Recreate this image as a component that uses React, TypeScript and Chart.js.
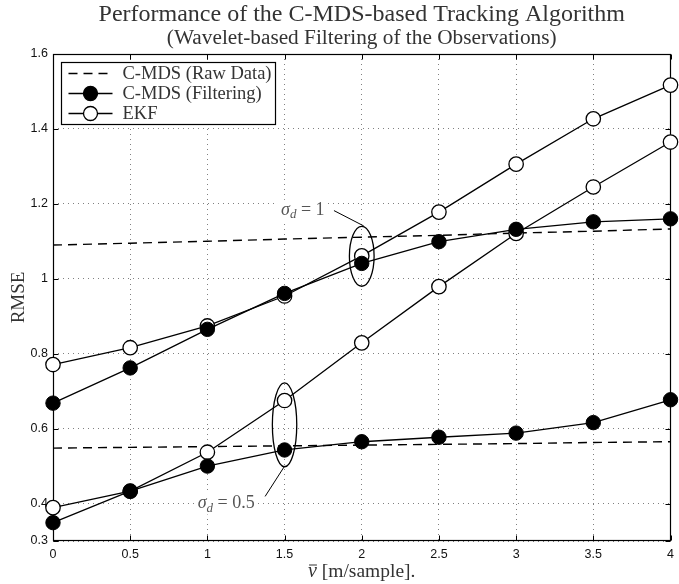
import React, { useEffect, useRef } from "react";
import { Chart, registerables } from "chart.js";

Chart.register(...registerables);

// ---- data ----
const X_VALUES = [0, 0.5, 1, 1.5, 2, 2.5, 3, 3.5, 4];
// sigma_d = 1
const CMDS_RAW_S1 = [1.09, 1.095, 1.1, 1.106, 1.111, 1.116, 1.122, 1.127, 1.133];
const CMDS_FILT_S1 = [0.668, 0.762, 0.865, 0.961, 1.041, 1.099, 1.132, 1.152, 1.16];
const EKF_S1 = [0.771, 0.816, 0.874, 0.954, 1.061, 1.178, 1.306, 1.427, 1.517];
// sigma_d = 0.5
const CMDS_RAW_S05 = [0.548, 0.55, 0.552, 0.554, 0.556, 0.558, 0.56, 0.563, 0.565];
const CMDS_FILT_S05 = [0.349, 0.433, 0.5, 0.543, 0.565, 0.577, 0.588, 0.616, 0.677];
const EKF_S05 = [0.389, 0.433, 0.537, 0.675, 0.829, 0.979, 1.121, 1.245, 1.365];

const X_TICKS = [0, 0.5, 1, 1.5, 2, 2.5, 3, 3.5, 4];
const Y_TICKS = [0.3, 0.4, 0.6, 0.8, 1, 1.2, 1.4, 1.6];

const LEGEND_LABELS = ["C-MDS (Raw Data)", "C-MDS (Filtering)", "EKF"];
const TITLE = "Performance of the C-MDS-based Tracking Algorithm";
const SUBTITLE = "(Wavelet-based Filtering of the Observations)";
const X_LABEL_SYMBOL = "\u03BD";
const X_LABEL_UNIT = " [m/sample].";
const Y_LABEL = "RMSE";

// annotation groups in data coordinates
const SIGMA_LABELS = ["1", "0.5"];
const ELLIPSE_CENTERS = [
  [2, 1.06],
  [1.5, 0.61],
];
const ELLIPSE_RADII = [
  [0.08, 0.08],
  [0.079, 0.112],
];
const LABEL_ANCHORS = [
  [1.477, 1.184],
  [0.937, 0.4],
];
const LEADERS = [
  [1.82, 1.182, 2.013, 1.141],
  [1.374, 0.419, 1.502, 0.501],
];

const SERIF = '"Liberation Serif", "DejaVu Serif", serif';
const SANS = '"Liberation Sans", Arial, sans-serif';

const W = 679;
const H = 584;

function drawSigma(ctx: CanvasRenderingContext2D, x: number, y: number, val: string) {
  ctx.save();
  ctx.textBaseline = "middle";
  ctx.textAlign = "left";
  const big = `italic 18px ${SERIF}`;
  const sub = `italic 13px ${SERIF}`;
  const up = `18px ${SERIF}`;
  ctx.font = big;
  const w1 = ctx.measureText("\u03C3").width;
  ctx.font = sub;
  const w2 = ctx.measureText("d").width;
  ctx.font = up;
  const w3 = ctx.measureText(" = " + val).width;
  const total = w1 + w2 + w3;
  ctx.fillStyle = "#fff";
  ctx.fillRect(x - 3, y - 10, total + 6, 21);
  ctx.fillStyle = "#555";
  ctx.font = big;
  ctx.fillText("\u03C3", x, y);
  ctx.font = sub;
  ctx.fillText("d", x + w1, y + 5);
  ctx.font = up;
  ctx.fillText(" = " + val, x + w1 + w2, y);
  ctx.restore();
}

const decorPlugin = {
  id: "decor",
  beforeDatasetsDraw(chart: any) {
    const { ctx, chartArea: a, scales } = chart;
    const xs = scales.x;
    const ys = scales.y;
    ctx.save();
    ctx.strokeStyle = "#000";
    ctx.lineWidth = 1;
    const L = Math.round(a.left) + 0.5;
    const R = Math.round(a.right) - 0.5;
    const T = Math.round(a.top) + 0.5;
    const B = Math.round(a.bottom) - 0.5;
    ctx.beginPath();
    for (const v of Y_TICKS) {
      const py = Math.round(ys.getPixelForValue(v)) + 0.5;
      ctx.moveTo(L, py);
      ctx.lineTo(L + 5, py);
      ctx.moveTo(R, py);
      ctx.lineTo(R - 5, py);
    }
    for (const v of X_TICKS) {
      const px = Math.round(xs.getPixelForValue(v)) + 0.5;
      ctx.moveTo(px, B);
      ctx.lineTo(px, B - 5);
      ctx.moveTo(px, T);
      ctx.lineTo(px, T + 5);
    }
    ctx.stroke();
    ctx.lineWidth = 1.2;
    ctx.strokeRect(L, T, R - L, B - T);
    ctx.restore();
  },
  afterDatasetsDraw(chart: any) {
    const { ctx, chartArea: a, scales } = chart;
    const xs = scales.x;
    const ys = scales.y;
    ctx.save();
    // ellipses and leader lines
    ctx.strokeStyle = "#000";
    for (let i = 0; i < ELLIPSE_CENTERS.length; i++) {
      const [cx, cy] = ELLIPSE_CENTERS[i];
      const [rx, ry] = ELLIPSE_RADII[i];
      const pcx = xs.getPixelForValue(cx);
      const pcy = ys.getPixelForValue(cy);
      const prx = Math.abs(xs.getPixelForValue(cx + rx) - pcx);
      const pry = Math.abs(ys.getPixelForValue(cy + ry) - pcy);
      ctx.lineWidth = 1.3;
      ctx.beginPath();
      ctx.ellipse(pcx, pcy, prx, pry, 0, 0, Math.PI * 2);
      ctx.stroke();
      const [x1, y1, x2, y2] = LEADERS[i];
      ctx.beginPath();
      ctx.lineWidth = 1;
      ctx.moveTo(xs.getPixelForValue(x1), ys.getPixelForValue(y1));
      ctx.lineTo(xs.getPixelForValue(x2), ys.getPixelForValue(y2));
      ctx.stroke();
      const [lx, ly] = LABEL_ANCHORS[i];
      drawSigma(ctx, xs.getPixelForValue(lx), ys.getPixelForValue(ly), SIGMA_LABELS[i]);
    }

    // legend
    const bx = Math.round(a.left) + 8.5;
    const by = Math.round(a.top) + 8.5;
    ctx.font = `18.5px ${SERIF}`;
    let maxW = 0;
    for (const t of LEGEND_LABELS) maxW = Math.max(maxW, ctx.measureText(t).width);
    const bw = 61 + maxW + 4;
    const bh = 62;
    ctx.fillStyle = "#fff";
    ctx.fillRect(bx, by, bw, bh);
    ctx.strokeStyle = "#000";
    ctx.lineWidth = 1.2;
    ctx.strokeRect(bx, by, bw, bh);
    for (let i = 0; i < LEGEND_LABELS.length; i++) {
      const ry = by + 11 + i * 20;
      ctx.beginPath();
      ctx.lineWidth = 1.4;
      ctx.setLineDash(i === 0 ? [9, 6] : []);
      ctx.moveTo(bx + 7, ry);
      ctx.lineTo(bx + 51, ry);
      ctx.stroke();
      ctx.setLineDash([]);
      if (i > 0) {
        ctx.beginPath();
        ctx.arc(bx + 29, ry, 7, 0, Math.PI * 2);
        ctx.fillStyle = i === 1 ? "#000" : "#fff";
        ctx.fill();
        ctx.lineWidth = 1.3;
        ctx.stroke();
      }
      ctx.fillStyle = "#333";
      ctx.textAlign = "left";
      ctx.textBaseline = "middle";
      ctx.fillText(LEGEND_LABELS[i], bx + 61, ry + 1);
    }

    // titles
    const cxm = (a.left + a.right) / 2;
    ctx.fillStyle = "#333";
    ctx.textAlign = "center";
    ctx.textBaseline = "middle";
    ctx.font = `24px ${SERIF}`;
    ctx.fillText(TITLE, cxm, 15);
    ctx.font = `21.3px ${SERIF}`;
    ctx.fillText(SUBTITLE, cxm, 38);

    // x label: italic nu with bar, then unit
    ctx.font = `italic 20px ${SERIF}`;
    const wSym = ctx.measureText(X_LABEL_SYMBOL).width;
    ctx.font = `19.5px ${SERIF}`;
    const wUnit = ctx.measureText(X_LABEL_UNIT).width;
    const startX = cxm - (wSym + wUnit) / 2;
    const ly = 572;
    ctx.textAlign = "left";
    ctx.font = `italic 20px ${SERIF}`;
    ctx.fillText(X_LABEL_SYMBOL, startX, ly);
    ctx.strokeStyle = "#333";
    ctx.lineWidth = 1;
    ctx.beginPath();
    ctx.moveTo(startX + 1, ly - 7);
    ctx.lineTo(startX + wSym, ly - 7);
    ctx.stroke();
    ctx.font = `19.5px ${SERIF}`;
    ctx.fillText(X_LABEL_UNIT, startX + wSym, ly);
    ctx.restore();
  },
};

export default function App() {
  const ref = useRef<HTMLCanvasElement | null>(null);

  useEffect(() => {
    if (!ref.current) return;
    const lineBase = {
      borderColor: "#000",
      borderWidth: 1.3,
      tension: 0,
      clip: false as const,
    };
    const dashed = (data: number[], order: number) => ({
      ...lineBase,
      data,
      borderWidth: 1.4,
      borderDash: [9, 6],
      pointRadius: 0,
      order,
    });
    const filled = (data: number[], order: number) => ({
      ...lineBase,
      data,
      pointRadius: 7.2,
      pointBackgroundColor: "#000",
      pointBorderColor: "#000",
      pointBorderWidth: 1,
      order,
    });
    const open = (data: number[], order: number) => ({
      ...lineBase,
      data,
      pointRadius: 7.2,
      pointBackgroundColor: "#fff",
      pointBorderColor: "#000",
      pointBorderWidth: 1.3,
      order,
    });

    const chart = new Chart(ref.current, {
      type: "line",
      data: {
        labels: X_VALUES,
        datasets: [
          { label: "C-MDS (Raw Data) σd=1", ...dashed(CMDS_RAW_S1, 3) },
          { label: "C-MDS (Raw Data) σd=0.5", ...dashed(CMDS_RAW_S05, 3) },
          { label: "EKF σd=1", ...open(EKF_S1, 2) },
          { label: "EKF σd=0.5", ...open(EKF_S05, 2) },
          { label: "C-MDS (Filtering) σd=1", ...filled(CMDS_FILT_S1, 1) },
          { label: "C-MDS (Filtering) σd=0.5", ...filled(CMDS_FILT_S05, 1) },
        ].map((d) => ({
          ...d,
          data: (d.data as number[]).map((y, i) => ({ x: X_VALUES[i], y })),
        })),
      },
      options: {
        responsive: false,
        animation: false,
        devicePixelRatio: 1,
        events: [],
        layout: { padding: { left: 0, right: 3, top: 54, bottom: 0 } },
        plugins: {
          legend: { display: false },
          tooltip: { enabled: false },
          title: { display: false },
        },
        scales: {
          x: {
            type: "linear",
            min: 0,
            max: 4,
            afterBuildTicks: (s: any) => {
              s.ticks = X_TICKS.map((v) => ({ value: v }));
            },
            afterFit: (s: any) => {
              s.height = 43;
              s.paddingLeft = 0;
              s.paddingRight = 0;
            },
            grid: {
              color: "#808080",
              lineWidth: 1,
              drawTicks: false,
            },
            border: { display: false, dash: [1, 4] },
            ticks: {
              padding: 6,
              color: "#111",
              font: { family: SANS, size: 12.5 },
              maxRotation: 0,
              autoSkip: false,
              callback: (v: any) => String(v),
            },
          },
          y: {
            type: "linear",
            min: 0.3,
            max: 1.6,
            afterBuildTicks: (s: any) => {
              s.ticks = Y_TICKS.map((v) => ({ value: v }));
            },
            afterFit: (s: any) => {
              s.width = 53;
              s.paddingTop = 0;
              s.paddingBottom = 0;
            },
            grid: {
              color: "#808080",
              lineWidth: 1,
              drawTicks: false,
            },
            border: { display: false, dash: [1, 4] },
            ticks: {
              padding: 5,
              color: "#111",
              font: { family: SANS, size: 12.5 },
              autoSkip: false,
              callback: (v: any) => String(v),
            },
            title: {
              display: true,
              text: Y_LABEL,
              color: "#333",
              font: { family: SERIF, size: 19 },
              padding: { top: 8, bottom: 0 },
            },
          },
        },
      },
      plugins: [decorPlugin],
    } as any);

    return () => chart.destroy();
  }, []);

  return (
    <div
      style={{
        position: "fixed",
        left: 0,
        top: 0,
        width: W,
        height: H,
        background: "#fff",
      }}
    >
      <canvas ref={ref} width={W} height={H} style={{ display: "block" }} />
    </div>
  );
}
